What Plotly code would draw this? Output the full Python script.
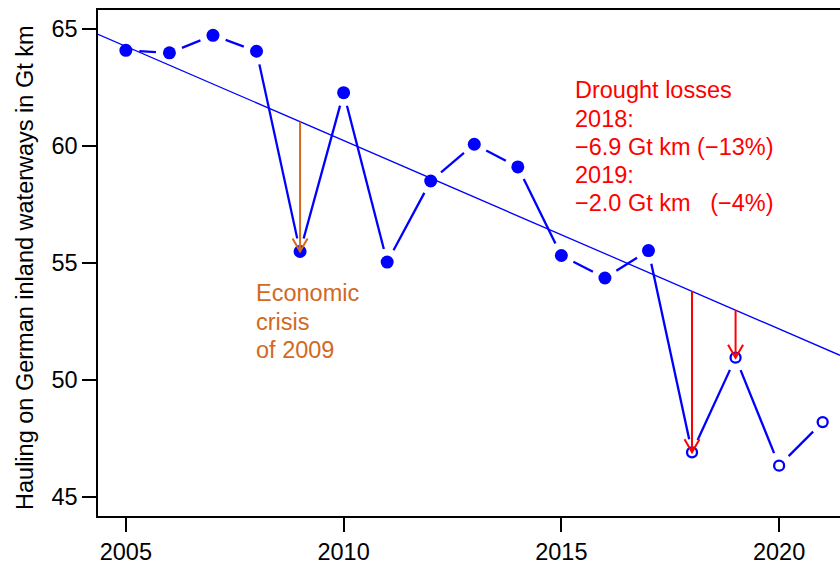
import numpy as np
import plotly.graph_objects as go

# ---- data -------------------------------------------------------------
years = list(range(2005, 2022))
hauling_gtkm = [64.08, 63.97, 64.72, 64.04, 55.49, 62.27, 55.04, 58.50, 60.07,
                59.10, 55.32, 54.36, 55.53, 46.92, 50.96, 46.35, 48.21]
fit_last_year = 2017          # trend fitted on 2005..2017, filled markers up to here
arrow_years = [2009, 2018, 2019]
arrow_colors = ["#D2691E", "#FF0000", "#FF0000"]
x_tick_vals = [2005, 2010, 2015, 2020]
y_tick_vals = [45, 50, 55, 60, 65]

crisis_lines = ["Economic", "crisis", "of 2009"]
drought_lines = ["Drought losses", "2018:", "\u22126.9 Gt km (\u221213%)", "2019:",
                 "\u22122.0 Gt km\u00a0\u00a0\u00a0(\u22124%)"]
y_title = "Hauling on German inland waterways in Gt km"

# ---- geometry ---------------------------------------------------------
FIG_W, FIG_H = 840, 565
M_L, M_T, M_B, M_R = 98, 10, 47, 0
PLOT_W = FIG_W - M_L - M_R
PLOT_H = FIG_H - M_T - M_B
X0 = 2004.36
PX_PER_YEAR = 43.55
x_range = [X0, X0 + PLOT_W / PX_PER_YEAR]
y_range = [44.2, 65.8]
px_x = PLOT_W / (x_range[1] - x_range[0])
px_y = PLOT_H / (y_range[1] - y_range[0])

FONT = "Liberation Sans, Arial, Helvetica, sans-serif"
FS = 23.5
BLUE = "#0000FF"

# trend line (least squares over 2005..fit_last_year)
n_fit = years.index(fit_last_year) + 1
slope, intercept = np.polyfit(years[:n_fit], hauling_gtkm[:n_fit], 1)
trend = lambda x: slope * x + intercept

# connecting segments with a gap around each point (type "b" style)
GAP = 13.5
seg_x, seg_y = [], []
for i in range(len(years) - 1):
    xa, ya, xb, yb = years[i], hauling_gtkm[i], years[i + 1], hauling_gtkm[i + 1]
    d = np.hypot((xb - xa) * px_x, (yb - ya) * px_y)
    if d <= 2 * GAP:
        continue
    t = GAP / d
    seg_x += [xa + t * (xb - xa), xb - t * (xb - xa), None]
    seg_y += [ya + t * (yb - ya), yb - t * (yb - ya), None]

fig = go.Figure()

fig.add_trace(go.Scatter(x=x_range, y=[trend(v) for v in x_range], mode="lines",
                         line=dict(color=BLUE, width=1.3), hoverinfo="skip",
                         cliponaxis=True))
fig.add_trace(go.Scatter(x=seg_x, y=seg_y, mode="lines",
                         line=dict(color=BLUE, width=2.3), hoverinfo="skip"))
fig.add_trace(go.Scatter(x=years[:n_fit], y=hauling_gtkm[:n_fit], mode="markers",
                         marker=dict(symbol="circle", size=13, color=BLUE,
                                     line=dict(width=0))))
fig.add_trace(go.Scatter(x=years[n_fit:], y=hauling_gtkm[n_fit:], mode="markers",
                         marker=dict(symbol="circle-open", size=10, color=BLUE,
                                     line=dict(width=2.3, color=BLUE))))

# arrows from the trend down to the observed value, with open V heads
HEAD_LEN = 15.0
hx = HEAD_LEN * np.sin(np.radians(30)) / px_x
hy = HEAD_LEN * np.cos(np.radians(30)) / px_y
for yr, col in zip(arrow_years, arrow_colors):
    v = hauling_gtkm[years.index(yr)]
    top = trend(yr)
    fig.add_trace(go.Scatter(
        x=[yr, yr, None, yr - hx, yr, yr + hx],
        y=[top, v, None, v + hy, v, v + hy],
        mode="lines", line=dict(color=col, width=2), hoverinfo="skip"))

# text blocks
LINE_STEP = 28.3 / px_y
for k, s in enumerate(crisis_lines):
    fig.add_annotation(x=2007.95, y=53.7 - k * LINE_STEP, text=s, showarrow=False,
                       xanchor="left", yanchor="middle",
                       font=dict(family=FONT, size=FS, color="#D2691E"))
for k, s in enumerate(drought_lines):
    fig.add_annotation(x=2015.26, y=62.37 - k * LINE_STEP, text=s, showarrow=False,
                       xanchor="left", yanchor="middle",
                       font=dict(family=FONT, size=FS, color="#FF0000"))

fig.add_annotation(text=y_title, textangle=-90, showarrow=False,
                   xref="paper", yref="paper",
                   x=(25 - M_L) / PLOT_W, y=(FIG_H - M_B - 269) / PLOT_H,
                   xanchor="center", yanchor="middle",
                   font=dict(family=FONT, size=FS, color="black"))

axis_common = dict(showline=True, linecolor="black", linewidth=1.5,
                   ticks="outside", ticklen=14, tickwidth=1.5, tickcolor="black",
                   showgrid=False, zeroline=False,
                   tickfont=dict(family=FONT, size=FS, color="black"))
fig.update_xaxes(range=x_range, tickvals=x_tick_vals, mirror=True, **axis_common)
fig.update_yaxes(range=y_range, tickvals=y_tick_vals, mirror=False, **axis_common)

fig.update_layout(width=FIG_W, height=FIG_H, showlegend=False,
                  margin=dict(l=M_L, r=M_R, t=M_T, b=M_B, pad=0),
                  paper_bgcolor="white", plot_bgcolor="white",
                  font=dict(family=FONT))

fig.write_html("out.html")
